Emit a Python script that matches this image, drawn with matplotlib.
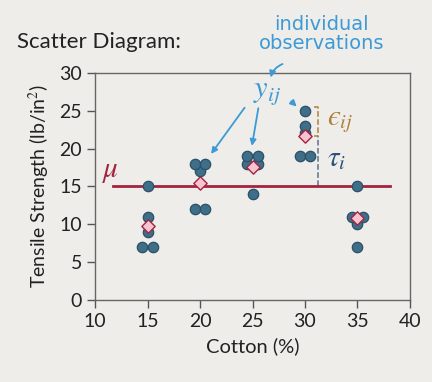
import matplotlib.pyplot as plt
from matplotlib.patches import FancyArrowPatch

# cotton percentage levels and observed tensile strength
cotton = [15, 20, 25, 30, 35]
obs_15 = [7, 7, 15, 11, 9]
obs_20 = [12, 17, 12, 18, 18]
obs_25 = [14, 18, 18, 19, 19]
obs_30 = [19, 25, 22, 19, 23]
obs_35 = [7, 10, 11, 15, 11]
observations = [obs_15, obs_20, obs_25, obs_30, obs_35]

x_ticks = [10, 15, 20, 25, 30, 35, 40]
y_ticks = [0, 5, 10, 15, 20, 25, 30]

bg = '#eeede9'
dot_c = '#3f6e88'
dot_edge = '#2b5068'
pink = '#f6c3d0'
red = '#a3243f'
blue = '#3d9ad6'
navy = '#2c4f7c'
brown = '#b07f3e'

plt.rcParams['font.family'] = ['Lato', 'DejaVu Sans']
plt.rcParams['mathtext.fontset'] = 'stix'

fig = plt.figure(figsize=(4.32, 3.82), dpi=100, facecolor=bg)
ax = fig.add_axes([0.22, 0.215, 0.729, 0.594])
ax.set_facecolor(bg)

# dodge repeated values side by side like a swarm plot
means = []
for lvl, vals in zip(cotton, observations):
    xs, ys = [], []
    for v in sorted(set(vals)):
        n = vals.count(v)
        for k in range(n):
            xs.append(lvl + (k - (n - 1) / 2) * 1.0)
            ys.append(v)
    ax.scatter(xs, ys, s=56, color=dot_c, edgecolor=dot_edge, linewidth=0.9, zorder=3)
    means.append(sum(vals) / len(vals))

ax.scatter(cotton, means, marker='D', s=46, color=pink, edgecolor=red, linewidth=1.0, zorder=4)

grand = sum(sum(v) for v in observations) / sum(len(v) for v in observations)
ax.plot([11.7, 38.1], [grand, grand], color=red, lw=2, zorder=2)
ax.text(10.7, grand + 0.2, r'$\mu$', color=red, fontsize=21, va='bottom')

# treatment effect and error marks for the 30% group
xd = 31.2
ax.plot([xd, xd], [grand, means[3]], ls='--', color='#5b7288', lw=1.1, zorder=1)
ax.plot([30.9, xd, xd, 30.9], [25.5, 25.5, means[3], means[3]], ls='--', color=brown, lw=1.1, zorder=1)
ax.text(32.1, 23.5, '$\u03f5_{ij}$', color=brown, fontsize=21, va='center')
ax.text(32.1, 18.6, r'$\tau_i$', color=navy, fontsize=21, va='center')

ax.text(26.4, 27.3, r'$y_{ij}$', color=blue, fontsize=22, ha='center', va='center')
arrow_kw = dict(arrowstyle='-|>', mutation_scale=9, color=blue, lw=1.3)
ax.add_patch(FancyArrowPatch((28.5, 26.5), (29.4, 25.3), **arrow_kw))
ax.add_patch(FancyArrowPatch((25.6, 25.7), (24.9, 20.0), **arrow_kw))
ax.add_patch(FancyArrowPatch((24.4, 25.7), (20.9, 19.0), **arrow_kw))

fig.text(0.745, 0.91, 'individual\nobservations', color=blue, fontsize=14,
         ha='center', va='center', family='DejaVu Sans', linespacing=1.0)
fig.add_artist(FancyArrowPatch((0.66, 0.835), (0.625, 0.79), transform=fig.transFigure,
                               connectionstyle='arc3,rad=0.3', **arrow_kw))

fig.text(0.04, 0.875, 'Scatter Diagram:', fontsize=16, color='#222222')

ax.set_xlim(10, 40)
ax.set_ylim(0, 30)
ax.set_xticks(x_ticks)
ax.set_yticks(y_ticks)
ax.tick_params(direction='out', length=6, width=1, color='#555555', labelsize=14, labelcolor='#222222')
for s in ax.spines.values():
    s.set_color('#666666')
    s.set_linewidth(1)
ax.set_xlabel('Cotton (%)', fontsize=14.5, color='#222222', labelpad=5)
ax.set_ylabel('Tensile Strength (lb/in$^2$)', fontsize=14, color='#222222', labelpad=5)

fig.savefig('out.png', dpi=100, facecolor=bg)
